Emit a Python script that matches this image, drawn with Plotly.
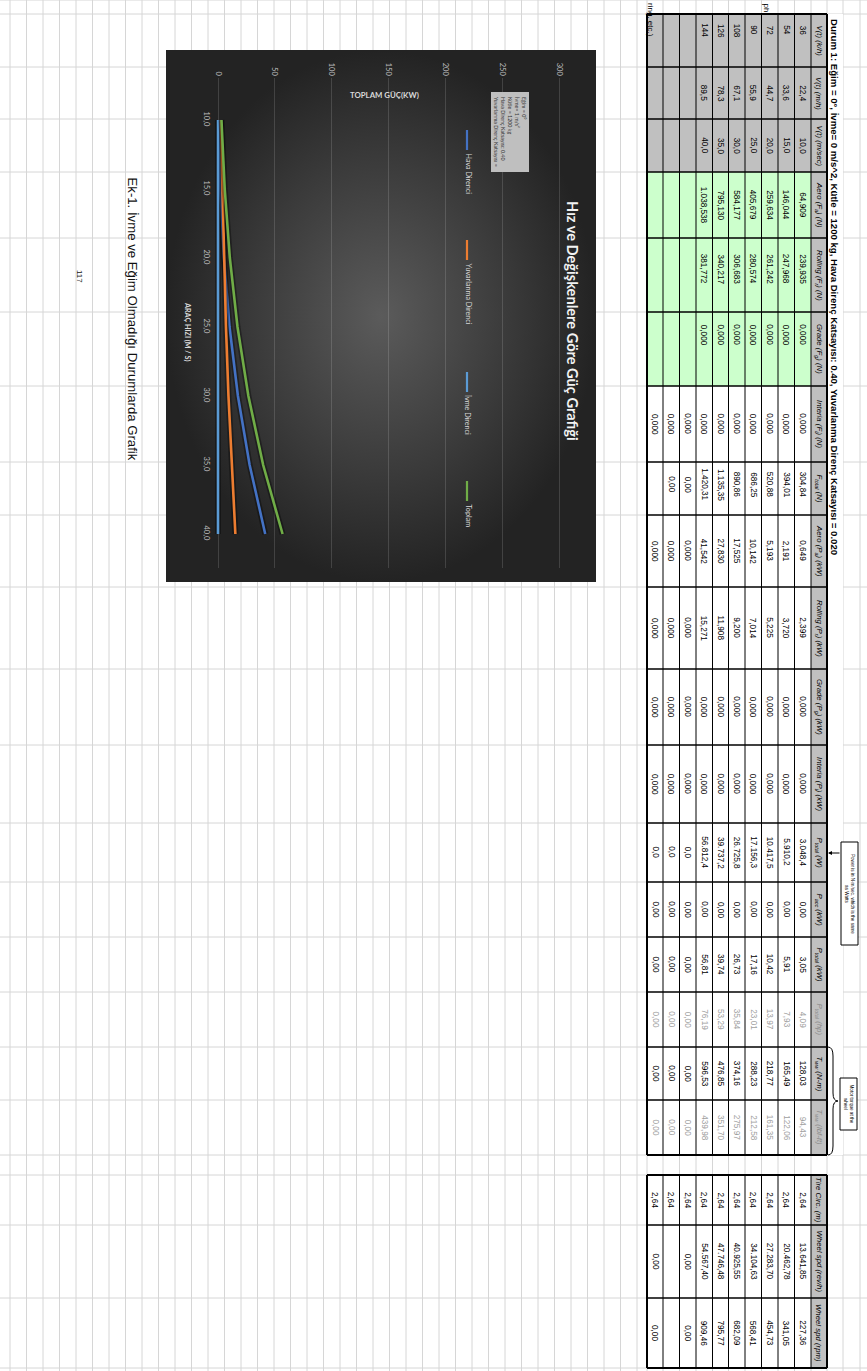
import plotly.graph_objects as go

W, H = 867, 1371

# ---------------- chart series: power (kW) against speed (m/s) ----------------
speed_ms = [10.0, 15.0, 20.0, 25.0, 30.0, 35.0, 40.0]
aero_kw = [0.649, 2.191, 5.193, 10.142, 17.525, 27.830, 41.542]
rolling_kw = [2.399, 3.720, 5.225, 7.014, 9.200, 11.908, 15.271]
inertia_kw = [0.0, 0.0, 0.0, 0.0, 0.0, 0.0, 0.0]
total_kw = [3.05, 5.91, 10.42, 17.16, 26.73, 39.74, 56.81]
series_names = ["Hava Direnci", "Yuvarlanma Direnci", "İvme Direnci", "Toplam"]
series_colors = ["#4472C4", "#ED7D31", "#5B9BD5", "#70AD47"]
power_ticks = [0, 50, 100, 150, 200, 250, 300]
speed_ticks = [10, 15, 20, 25, 30, 35, 40]
speed_tick_text = ["10,0", "15,0", "20,0", "25,0", "30,0", "35,0", "40,0"]

# ---------------- spreadsheet columns ----------------
col_kmh = [36, 54, 72, 90, 108, 126, 144]
col_mph = [22.4, 33.6, 44.7, 55.9, 67.1, 78.3, 89.5]
col_ms = [10.0, 15.0, 20.0, 25.0, 30.0, 35.0, 40.0]
col_aero_n = [64.909, 146.044, 259.634, 405.679, 584.177, 795.130, 1038.538]
col_roll_n = [239.935, 247.968, 261.242, 280.574, 306.683, 340.217, 381.772]
col_grade_n = [0.0, 0.0, 0.0, 0.0, 0.0, 0.0, 0.0]
col_inertia_n = [0.0, 0.0, 0.0, 0.0, 0.0, 0.0, 0.0, 0.0, 0.0, 0.0]
col_ftotal_n = [304.84, 394.01, 520.88, 686.25, 890.86, 1135.35, 1420.31, 0.0, 0.0]
col_aero_kw = [0.649, 2.191, 5.193, 10.142, 17.525, 27.830, 41.542, 0.0, 0.0, 0.0]
col_roll_kw = [2.399, 3.720, 5.225, 7.014, 9.200, 11.908, 15.271, 0.0, 0.0, 0.0]
col_grade_kw = [0.0, 0.0, 0.0, 0.0, 0.0, 0.0, 0.0, 0.0, 0.0, 0.0]
col_inertia_kw = [0.0, 0.0, 0.0, 0.0, 0.0, 0.0, 0.0, 0.0, 0.0, 0.0]
col_ptotal_w = [3048.4, 5910.2, 10417.5, 17156.3, 26725.8, 39737.2, 56812.4, 0.0, 0.0, 0.0]
col_pacc_kw = [0.0, 0.0, 0.0, 0.0, 0.0, 0.0, 0.0, 0.0, 0.0, 0.0]
col_ptotal_kw = [3.05, 5.91, 10.42, 17.16, 26.73, 39.74, 56.81, 0.0, 0.0, 0.0]
col_ptotal_hp = [4.09, 7.93, 13.97, 23.01, 35.84, 53.29, 76.19, 0.0, 0.0, 0.0]
col_tww_nm = [128.03, 165.49, 218.77, 288.23, 374.16, 476.85, 596.53, 0.0, 0.0, 0.0]
col_tww_lbf = [94.43, 122.06, 161.35, 212.58, 275.97, 351.70, 439.98, 0.0, 0.0, 0.0]
col_tire = [2.64, 2.64, 2.64, 2.64, 2.64, 2.64, 2.64, 2.64, 2.64, 2.64]
col_wheel_revh = [13641.85, 20462.78, 27283.70, 34104.63, 40925.55, 47746.48, 54567.40, 0.0, None, 0.0]
col_wheel_rpm = [227.36, 341.05, 454.73, 568.41, 682.09, 795.77, 909.46, 0.0, None, 0.0]

headers = [
    "V(t) (k/h)", "V(t) (m/h)", "V(t) (m/sec)", "Aero (F<sub>a</sub>) (N)",
    "Rolling (F<sub>r</sub>) (N)", "Grade (F<sub>g</sub>) (N)", "Interia (F<sub>i</sub>) (N)",
    "F<sub>total</sub> (N)", "Aero (P<sub>a</sub>) (kW)", "Rolling (P<sub>r</sub>) (kW)",
    "Grade (P<sub>g</sub>) (kW)", "Interia (P<sub>i</sub>) (kW)", "P<sub>total</sub> (W)",
    "P<sub>acc</sub> (kW)", "P<sub>total</sub> (kW)", "P<sub>total</sub> (hp)",
    "T<sub>ww</sub> (N-m)", "T<sub>ww</sub> (lbf-ft)", "Tire Circ. (m)",
    "Wheel spd (rev/h)", "Wheel spd (rpm)",
]
columns = [col_kmh, col_mph, col_ms, col_aero_n, col_roll_n, col_grade_n, col_inertia_n,
           col_ftotal_n, col_aero_kw, col_roll_kw, col_grade_kw, col_inertia_kw,
           col_ptotal_w, col_pacc_kw, col_ptotal_kw, col_ptotal_hp, col_tww_nm,
           col_tww_lbf, col_tire, col_wheel_revh, col_wheel_rpm]
decimals = [0, 1, 1, 3, 3, 3, 3, 2, 3, 3, 3, 3, 1, 2, 2, 2, 2, 2, 2, 2, 2]
muted_cols = {15, 17}

table_title = ("Durum 1: Eğim = 0°, İvme= 0 m/s^2, Kütle = 1200 kg, Hava Direnç Katsayısı: 0.40, "
               "Yuvarlanma Direnç Katsayısı = 0.020")

# ---------------- page geometry (rotated sheet) ----------------
ROW_EDGES = [827, 811, 794.5, 778, 761.5, 745, 728.5, 712.5, 696, 679.5, 663, 647]
COL_EDGES_A = [14, 67, 119, 172, 238, 312, 386, 462, 515, 587, 669, 745, 823, 882, 937, 992,
               1047, 1100, 1155]
COL_EDGES_B = [1175, 1225, 1298, 1368]
# per-column nudge of the value text along the column (px)
VALUE_SHIFT = [-10, 0, 0, 0, -6, -14, 0, -4, 0, 0, 0, 0, 0, 0, 0, 0, 0, 0, 0, 0, 0]
CHART_BOX = (166, 50, 596, 582)
PLOT_X_PX = (218, 559)      # pixel of power 0 and 300
PLOT_Y_PX = (120, 534)      # pixel of speed 10 and 40
GRID_TOP, GRID_BOTTOM = 78, 568

GRID = "#d6d6d6"
TABLE_FONT = "Liberation Sans, Arial, sans-serif"
CHART_FONT = "Lato, Open Sans, sans-serif"


def tr_num(v, d):
    s = f"{v:,.{d}f}"
    return s.replace(",", "_").replace(".", ",").replace("_", ".")


fig = go.Figure()
shapes = []
annotations = []


def line(x0, y0, x1, y1, color, width, layer="below"):
    shapes.append(dict(type="line", xref="x", yref="y", x0=x0, y0=y0, x1=x1, y1=y1,
                       line=dict(color=color, width=width), layer=layer))


def rect(x0, y0, x1, y1, fill, border=None, bw=1, layer="below"):
    shapes.append(dict(type="rect", xref="x", yref="y", x0=x0, y0=y0, x1=x1, y1=y1,
                       fillcolor=fill, line=dict(color=border or fill, width=bw if border else 0),
                       layer=layer))


def vtext(x, y, text, size, color="#000", family=TABLE_FONT, xanchor="center",
          yanchor="middle", weight="normal", align="center"):
    annotations.append(dict(x=x, y=y, xref="x", yref="y", text=text, showarrow=False,
                            textangle=90, xanchor=xanchor, yanchor=yanchor, align=align,
                            font=dict(size=size, color=color, family=family, weight=weight)))


# spreadsheet gridlines
grid_x = [10 + 16.5 * i for i in range(39)] + ROW_EDGES + [843, 860]
for gx in grid_x:
    line(gx, 0, gx, H, GRID, 1)
for gy in [0] + COL_EDGES_A + COL_EDGES_B:
    line(0, gy, W, gy, GRID, 1)

# table fills
hdr_lo, hdr_hi = ROW_EDGES[1], ROW_EDGES[0]
data_lo = ROW_EDGES[-1]
rect(data_lo, COL_EDGES_A[0], hdr_hi, COL_EDGES_A[-1], "#ffffff")
rect(data_lo, COL_EDGES_B[0], hdr_hi, COL_EDGES_B[-1], "#ffffff")
rect(hdr_lo, COL_EDGES_A[0], hdr_hi, COL_EDGES_A[-1], "#c0c0c0")
rect(hdr_lo, COL_EDGES_B[0], hdr_hi, COL_EDGES_B[-1], "#c0c0c0")
rect(data_lo, COL_EDGES_A[0], hdr_lo, COL_EDGES_A[3], "#c0c0c0")
rect(data_lo, COL_EDGES_A[3], hdr_lo, COL_EDGES_A[6], "#ccffcc")
rect(ROW_EDGES[0], COL_EDGES_A[0], 843, COL_EDGES_A[-1], "#ffffff")

# table borders
for edges in (COL_EDGES_A, COL_EDGES_B):
    for i, rx in enumerate(ROW_EDGES):
        w = 2 if i in (0, len(ROW_EDGES) - 1) else 1
        line(rx, edges[0], rx, edges[-1], "#000", w)
    for j, cy in enumerate(edges):
        w = 2 if j in (0, len(edges) - 1) else 1.4
        line(data_lo, cy, hdr_hi, cy, "#000", w)

# table text
col_bounds = [(COL_EDGES_A[i], COL_EDGES_A[i + 1]) for i in range(len(COL_EDGES_A) - 1)] + \
             [(COL_EDGES_B[i], COL_EDGES_B[i + 1]) for i in range(len(COL_EDGES_B) - 1)]
for c, (y0, y1) in enumerate(col_bounds):
    cy = (y0 + y1) / 2
    hcol = "#8a8a8a" if c in muted_cols else "#000"
    vtext((hdr_lo + hdr_hi) / 2, cy, "<i>" + headers[c] + "</i>", 7.8, hcol)
    vcol = "#a0a0a0" if c in muted_cols else "#000"
    for k, v in enumerate(columns[c]):
        if v is None:
            continue
        xc = (ROW_EDGES[k + 1] + ROW_EDGES[k + 2]) / 2
        vtext(xc, cy + VALUE_SHIFT[c], tr_num(v, decimals[c]), 8.2, vcol)

vtext(835, COL_EDGES_A[0] + 3, table_title, 9.6, "#000", yanchor="top", weight="bold")

# side notes around the table
vtext(651, 1, "ring, etc.)", 8, "#000", yanchor="top")
vtext(766, 1, "ph", 8, "#000", yanchor="top")

rect(841, 842, 858, 945, "#ffffff", "#000", 1)
vtext(849.5, 893.5, "Power is in N·m/sec, which is the same<br>as Watts", 4.6, "#000")
annotations.append(dict(x=828, y=853, xref="x", yref="y", ax=841, ay=853, axref="x", ayref="y",
                        text="", showarrow=True, arrowhead=2, arrowsize=0.8, arrowwidth=1,
                        arrowcolor="#000"))
rect(840, 1078, 857, 1130, "#ffffff", "#000", 1)
vtext(848.5, 1104, "Motor torque at the<br>wheel", 4.6, "#000")
shapes.append(dict(type="path", xref="x", yref="y", layer="below",
                   path="M 828,1047 Q 833,1047 833,1056 L 833,1093 Q 833,1101 838,1101 "
                        "Q 833,1101 833,1109 L 833,1146 Q 833,1155 828,1155",
                   line=dict(color="#000", width=1)))

# caption and page number
vtext(132, 175, "Ek-1. İvme ve Eğim Olmadığı Durumlarda Grafik", 13.2, "#111",
      yanchor="top")
vtext(80, 276, "117", 8, "#111")

# ---------------- chart frame with radial shading ----------------
bx0, by0, bx1, by1 = CHART_BOX
fig.add_trace(go.Scatter(
    x=[bx0, bx1, bx1, bx0, bx0], y=[by0, by0, by1, by1, by0], xaxis="x", yaxis="y",
    mode="lines", fill="toself", line=dict(width=0), hoverinfo="skip", showlegend=False,
    fillgradient=dict(type="radial", colorscale=[[0, "#5b5b5b"], [0.6, "#3a3a3a"], [1, "#232323"]]),
))

# ---------------- power chart on its own axes ----------------
px_per_kw = (PLOT_X_PX[1] - PLOT_X_PX[0]) / (power_ticks[-1] - power_ticks[0])
dom_x = (213, 585)
x_range = [power_ticks[0] - (PLOT_X_PX[0] - dom_x[0]) / px_per_kw,
           power_ticks[0] + (dom_x[1] - PLOT_X_PX[0]) / px_per_kw]
px_per_ms = (PLOT_Y_PX[1] - PLOT_Y_PX[0]) / (speed_ticks[-1] - speed_ticks[0])
y_top_val = speed_ticks[0] - (PLOT_Y_PX[0] - GRID_TOP) / px_per_ms
y_bot_val = speed_ticks[-1] + (GRID_BOTTOM - PLOT_Y_PX[1]) / px_per_ms

for name, vals, color in zip(series_names, [aero_kw, rolling_kw, inertia_kw, total_kw],
                             series_colors):
    # soft drop shadow under each line
    fig.add_trace(go.Scatter(
        x=vals, y=speed_ms, xaxis="x2", yaxis="y2", mode="lines",
        line=dict(color="rgba(0,0,0,0.35)", width=6), showlegend=False, hoverinfo="skip",
    ))
    fig.add_trace(go.Scatter(
        x=vals, y=speed_ms, xaxis="x2", yaxis="y2", mode="lines", name=name,
        line=dict(color=color, width=2.6), showlegend=False, hoverinfo="skip",
    ))

# rotated legend
legend_starts = [130, 240, 372, 481]
lx = 467
for name, color, ys in zip(series_names, series_colors, legend_starts):
    shapes.append(dict(type="line", xref="x", yref="y", x0=lx, y0=ys, x1=lx, y1=ys + 20,
                       line=dict(color=color, width=2.2), layer="above"))
    vtext(lx + 1, ys + 21, name, 7.2, "#d9d9d9", family=CHART_FONT, yanchor="top")

# chart title and axis titles
vtext(573, 321, "Hız ve Değişkenlere Göre Güç Grafiği", 14.6, "#f2f2f2",
      family=CHART_FONT, weight="bold")
annotations.append(dict(x=384, y=95, xref="x", yref="y", text="TOPLAM GÜÇ(KW)",
                        showarrow=False, font=dict(size=7.8, color="#d9d9d9",
                                                   family=CHART_FONT, weight="bold")))
vtext(188, 331, "ARAÇ HIZI (M / S)", 7.2, "#d9d9d9", family=CHART_FONT, weight="bold")

# note box inside the chart
rect(491, 92, 529, 172, "#bfbfbf", layer="above")
vtext(510, 95, "Eğim = 0°<br>İvme= 1 m/s²<br>Kütle = 1200 kg<br>Hava Direnç Katsayısı: 0.40<br>"
      "Yuvarlanma Direnç Katsayısı =", 5.3, "#333", family=CHART_FONT, yanchor="top",
      align="left")

fig.update_layout(
    width=W, height=H, margin=dict(l=0, r=0, t=0, b=0),
    paper_bgcolor="#ffffff", plot_bgcolor="rgba(0,0,0,0)",
    showlegend=False,
    xaxis=dict(domain=[0, 1], range=[0, W], visible=False, fixedrange=True),
    yaxis=dict(domain=[0, 1], range=[H, 0], visible=False, fixedrange=True),
    xaxis2=dict(domain=[dom_x[0] / W, dom_x[1] / W], range=x_range, anchor="y2", side="top",
                tickvals=power_ticks, ticktext=[str(t) for t in power_ticks], tickangle=90,
                ticks="", showline=False, zeroline=False, showgrid=True,
                gridcolor="rgba(255,255,255,0.14)", gridwidth=1,
                tickfont=dict(size=7.6, color="#bfbfbf", family=CHART_FONT)),
    yaxis2=dict(domain=[1 - GRID_BOTTOM / H, 1 - GRID_TOP / H], range=[y_bot_val, y_top_val],
                anchor="x2", tickvals=speed_ticks, ticktext=speed_tick_text, tickangle=90,
                ticks="", showline=False, zeroline=False, showgrid=False,
                tickfont=dict(size=7.6, color="#bfbfbf", family=CHART_FONT)),
    shapes=shapes, annotations=annotations,
)

fig.write_html("out.html")
